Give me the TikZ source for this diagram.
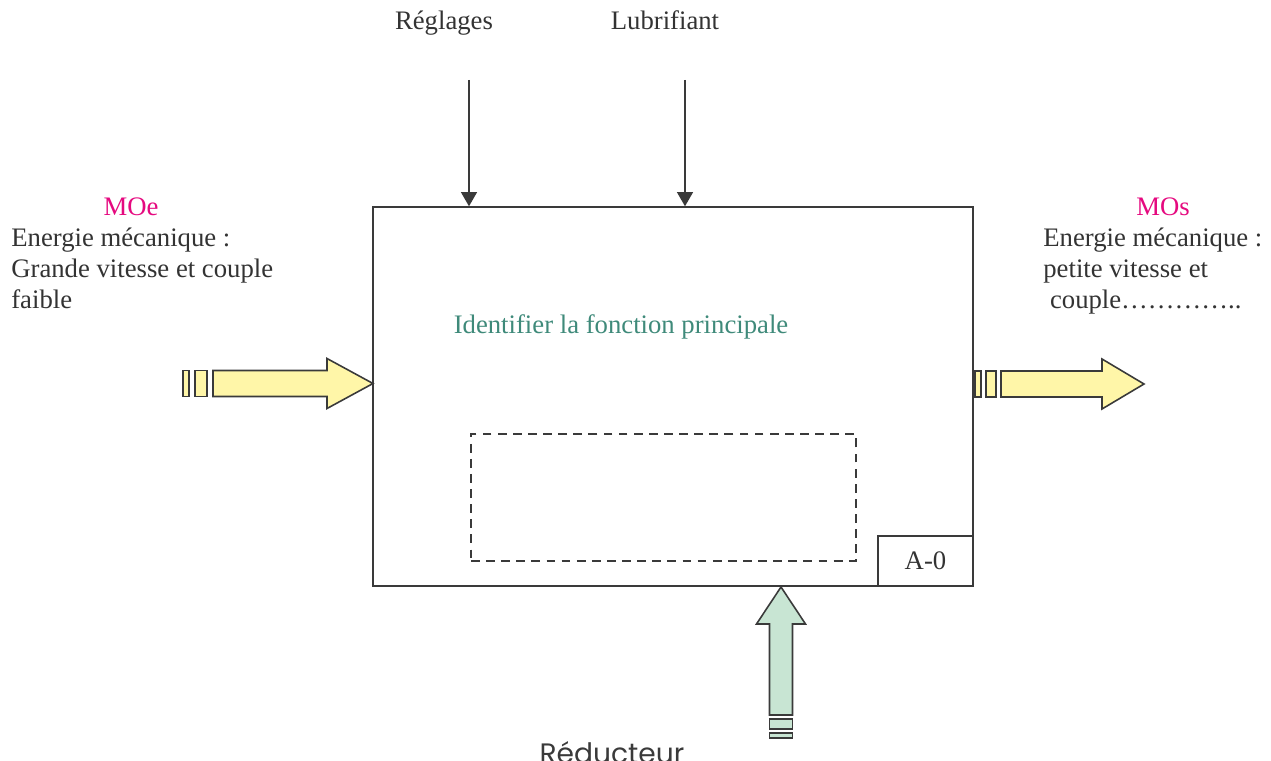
\documentclass[tikz,border=0pt]{standalone}
\usepackage{xcolor}
\usepackage{fontspec}
\setmainfont{Liberation Serif}
\newfontfamily\gothic{Poppins}
\usepackage{tikz}
\usetikzlibrary{positioning,arrows.meta}
\definecolor{linegray}{HTML}{3A3A3A}
\definecolor{txtgray}{HTML}{333333}
\definecolor{pinkmo}{HTML}{E5097F}
\definecolor{tealtxt}{HTML}{3F8A7A}
\definecolor{yellowfill}{HTML}{FFF6A8}
\definecolor{greenfill}{HTML}{C8E5D3}

\begin{document}
\begin{tikzpicture}[
  font=\fontsize{15.2}{17.4}\selectfont,
  txt/.style={text=txtgray, inner sep=0pt},
  ctrl/.style={draw=linegray, line width=0.8pt, -{Triangle[width=9pt,length=8pt]}},
  fatY/.style={draw=linegray, line width=0.9pt, fill=yellowfill},
  fatG/.style={draw=linegray, line width=0.9pt, fill=greenfill},
]
\useasboundingbox (0,0) rectangle (25.42,15.2);
\clip (0,0) rectangle (25.42,15.2);
% bloc A-0
\node[draw=linegray, line width=0.8pt, minimum width=12cm, minimum height=7.58cm, inner sep=0pt] (box) at (13.46,7.27) {};
\node[draw=linegray, line width=1.6pt, dash pattern=on 5pt off 3.6pt, minimum width=7.7cm, minimum height=2.54cm] (todo) at (13.27,5.25) {};
\node[draw=linegray, line width=0.8pt, minimum width=1.9cm, minimum height=1cm, anchor=south east, text=txtgray] (ref) at (box.south east) {A-0\hspace{0.24cm}};
\node[txt, text=tealtxt, anchor=base] (func) at (12.42,8.52) {Identifier la fonction principale};
% controles
\node[txt, anchor=base] (regl) at (8.88,14.6) {Réglages};
\node[txt, anchor=base] (lubr) at (13.30,14.6) {Lubrifiant};
\coordinate (regl0) at (9.38,13.6);
\coordinate (lubr0) at (13.70,13.6);
\draw[ctrl] (regl0) -- (regl0 |- box.north);
\draw[ctrl] (lubr0) -- (lubr0 |- box.north);
% entree
\node[txt, text=pinkmo, anchor=base] (moe) at (2.62,10.88) {MOe};
\node[txt, align=left, anchor=north west] (moetxt) at (0.22,10.64) {Energie mécanique :\\Grande vitesse et couple\\faible};
\coordinate (moein) at (7.46,7.53);
\draw[fatY] (moein) -- ++(-0.92,0.5) -- ++(0,-0.24) -- ++(-2.28,0) -- ++(0,-0.52) -- ++(2.28,0) -- ++(0,-0.24) -- cycle;
\draw[fatY] ([shift={(-3.32,0.26)}]moein) rectangle ([shift={(-3.56,-0.26)}]moein);
\draw[fatY] ([shift={(-3.68,0.26)}]moein) rectangle ([shift={(-3.80,-0.26)}]moein);
% sortie
\node[txt, text=pinkmo, anchor=base] (mos) at (23.26,10.88) {MOs};
\node[txt, align=left, anchor=north west] (mostxt) at (20.86,10.64) {Energie mécanique :\\petite vitesse et\\~couple…………..};
\coordinate (mosout) at (19.50,7.52);
\draw[fatY] (mosout) ++(0,0.26) rectangle ++(0.12,-0.52);
\draw[fatY] (mosout) ++(0.22,0.26) rectangle ++(0.20,-0.52);
\draw[fatY] (mosout) ++(0.52,0.26) -- ++(2.02,0) -- ++(0,0.24) -- ++(0.84,-0.50) -- ++(-0.84,-0.50) -- ++(0,0.24) -- ++(-2.02,0) -- cycle;
% support
\coordinate (mech) at (15.62,3.46);
\draw[fatG] (mech) -- ++(0.49,-0.74) -- ++(-0.26,0) -- ++(0,-1.82) -- ++(-0.46,0) -- ++(0,1.82) -- ++(-0.26,0) -- cycle;
\draw[fatG] (mech) ++(-0.23,-2.64) rectangle ++(0.46,-0.20);
\draw[fatG] (mech) ++(-0.23,-2.92) rectangle ++(0.46,-0.10);
\node[txt, text=linegray, anchor=base, font=\gothic\fontsize{16}{16}\selectfont] (red) at (12.24,-0.07) {Réducteur};
\end{tikzpicture}
\end{document}
